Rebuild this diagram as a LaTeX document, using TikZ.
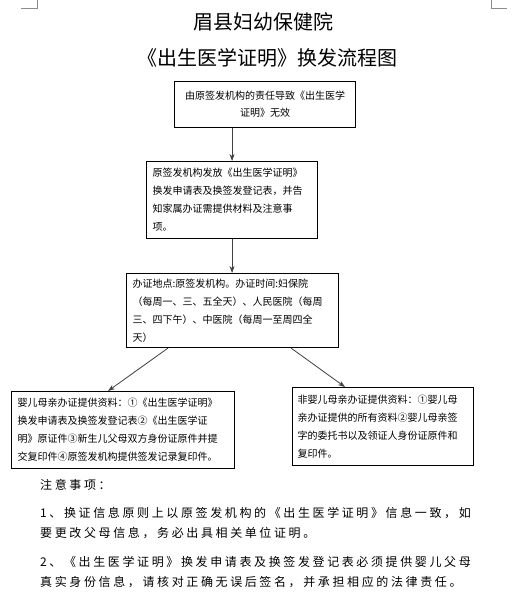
\documentclass[tikz,border=0pt]{standalone}
\usepackage{fontspec}
\setmainfont{Noto Sans CJK SC}
\usetikzlibrary{arrows.meta,calc}
\makeatletter
\def\spc#1{\spc@a#1\relax}
\def\spc@a#1{\ifx#1\relax\else#1\kern2.62pt\expandafter\spc@a\fi}
\makeatother
\tikzset{
  box/.style={draw, line width=1.1pt, rectangle, inner xsep=6pt, inner ysep=0pt,
    align=left, anchor=north west, font=\fontsize{10pt}{18pt}\selectfont},
  arr/.style={draw=black!75, line width=0.8pt, -{Stealth[length=7pt,width=5pt]}},
  note/.style={anchor=west, inner sep=0pt, font=\fontsize{12pt}{14pt}\selectfont},
  ttl/.style={inner sep=0pt, font=\fontsize{20pt}{24pt}\selectfont},
  cornermark/.style={draw=black!45, line width=0.6pt}
}
\begin{document}
\begin{tikzpicture}[x=1pt,y=-1pt]
\fill[white] (0,0) rectangle (524,615);
\useasboundingbox (0,0) rectangle (524,615);
% page corner marks
\coordinate (cl1) at (21,8); \coordinate (cl2) at (37,8); \coordinate (cl3) at (37,0);
\coordinate (cr1) at (491,0); \coordinate (cr2) at (491,8); \coordinate (cr3) at (507,8);
\draw[cornermark] (cl1) -- (cl2) -- (cl3);
\draw[cornermark] (cr1) -- (cr2) -- (cr3);
% titles
\node[ttl] (t1) at (263,22) {眉县妇幼保健院};
\node[ttl] (t2) at (267.5,57.5) {《出生医学证明》换发流程图};
% boxes
\node[box, align=center, font=\fontsize{10pt}{17pt}\selectfont, text width=169pt, minimum height=46pt] (b1) at (174,81)
  {由原签发机构的责任导致《出生医学\\证明》无效};
\node[box, text width=159pt, minimum height=77pt] (b2) at (146,161)
  {原签发机构发放《出生医学证明》\\换发申请表及换签发登记表，并告\\知家属办证需提供材料及注意事\\项。};
\node[box, text width=200pt, minimum height=74pt] (b3) at (126,273)
  {办证地点:原签发机构。办证时间:妇保院\\（每周一、三、五全天）、人民医院（每周\\三、四下午）、中医院（每周一至周四全\\天）};
\node[box, text width=211pt, minimum height=77pt] (b4) at (11,391)
  {婴儿母亲办证提供资料：①《出生医学证明》\\换发申请表及换签发登记表②《出生医学证\\明》原证件③新生儿父母双方身份证原件并提\\交复印件④原签发机构提供签发记录复印件。};
\node[box, inner xsep=5pt, text width=171pt, minimum height=78pt] (b5) at (292,387)
  {非婴儿母亲办证提供资料：①婴儿母\\亲办证提供的所有资料②婴儿母亲签\\字的委托书以及领证人身份证原件和\\复印件。};
% arrows
\draw[arr] (b2.north |- b1.south) -- (b2.north);
\draw[arr] (b2.south) -- (b2.south |- b3.north);
\draw[arr] ($(b3.south west)+(42,0)$) -- ($(b4.north west)+(97,0)$);
\draw[arr] ($(b3.south east)+(-48,0)$) -- ($(b5.north west)+(53,0)$);
% notes
\node[note] (n0) at (40,485) {\spc{注意事项：}};
\node[note] (n1) at (40,513) {\spc{1、换证信息原则上以原签发机构的《出生医学证明》信息一致，如}};
\node[note] (n2) at (40,533) {\spc{要更改父母信息，务必出具相关单位证明。}};
\node[note] (n3) at (40,562) {\spc{2、《出生医学证明》换发申请表及换签发登记表必须提供婴儿父母}};
\node[note] (n4) at (40,582) {\spc{真实身份信息，请核对正确无误后签名，并承担相应的法律责任。}};
\end{tikzpicture}
\end{document}
